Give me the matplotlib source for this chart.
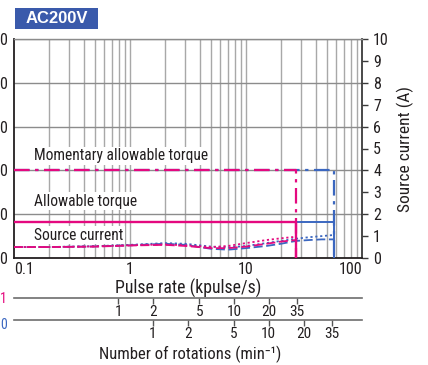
import matplotlib
matplotlib.use("Agg")
import matplotlib.pyplot as plt
import matplotlib.font_manager as fm
from matplotlib.patches import Rectangle
from matplotlib.ticker import FixedLocator, NullLocator

# pick a condensed sans font if one is installed
cond = None
pref = ['Liberation Sans Narrow', 'Roboto Condensed', 'Open Sans Condensed', 'DejaVu Sans', 'Noto Sans']
cands = [f for f in fm.fontManager.ttflist
         if (('Narrow' in f.name) or ('Condensed' in f.name) or f.stretch in ('condensed', 'semi-condensed'))
         and f.style == 'normal' and f.weight in (400, 'normal', 'regular', 'book')]
for p in pref:
    for f in cands:
        if f.name == p:
            cond = f
            break
    if cond is not None:
        break
if cond is None and cands:
    cond = cands[0]
if cond is not None:
    plt.rcParams['font.family'] = [cond.name, 'DejaVu Sans']
    plt.rcParams['font.stretch'] = cond.stretch
else:
    plt.rcParams['font.family'] = ['DejaVu Sans']

MAG = '#e4097f'
BLU = '#3b67c0'
TXT = '#231f20'

# pulse-rate factors for the two rotation axes (kpulse/s per unit)
k1 = 0.79
k2 = 1.57

# limits (kpulse/s)
mag_limit = 27.0
blu_limit = 57.0
momentary = 4.0      # right-axis units
allowable = 1.63

# source current curves
f_mag = [0.1, 0.2, 0.5, 1, 2, 3, 5, 7, 10, 15, 20, 27]
mag_dash = [0.5, 0.5, 0.52, 0.57, 0.6, 0.55, 0.45, 0.45, 0.52, 0.65, 0.75, 0.82]
mag_dot = [0.5, 0.5, 0.53, 0.58, 0.62, 0.58, 0.5, 0.55, 0.68, 0.82, 0.9, 0.97]
f_blu = [0.1, 0.2, 0.5, 1, 2, 3, 5, 7, 10, 15, 20, 27, 35, 45, 57]
blu_dash = [0.5, 0.5, 0.53, 0.58, 0.65, 0.6, 0.42, 0.38, 0.45, 0.55, 0.65, 0.78, 0.82, 0.85, 0.85]
blu_dot = [0.5, 0.5, 0.54, 0.6, 0.68, 0.65, 0.52, 0.48, 0.55, 0.68, 0.78, 0.88, 0.95, 1.0, 1.05]

x_ticks = [0.1, 1, 10, 100]
x_ticklabels = ['0.1', '1', '10', '100']
right_ticks = list(range(11))
left_ticks = [0, 2, 4, 6, 8, 10]
left_labels = ['0', '0', '0', '0', '0', '0']
rot_ticks = [1, 2, 5, 10, 20, 35]

fig = plt.figure(figsize=(4.28, 3.65), dpi=100)
ax = fig.add_axes([14/428, 1-258/365, (362-14)/428, (258-39)/365])
ax.set_xscale('log')
ax.set_xlim(0.1, 100)
ax.set_ylim(0, 10)

# grid
minor = []
for d in [0.1, 1, 10]:
    minor += [d*m for m in range(2, 10)]
for v in minor + [1, 10]:
    ax.axvline(v, color='#a8a8a8', lw=1.0, zorder=0)
for v in left_ticks[1:]:
    ax.axhline(v, color='#8c8c8c', lw=1.0, zorder=0)

# momentary allowable torque
ax.plot([0.1, blu_limit, blu_limit], [momentary, momentary, 0], color=BLU, lw=1.6,
        dashes=(7, 2.5, 1.5, 2.5), zorder=3)
ax.plot([0.1, mag_limit, mag_limit], [momentary, momentary, 0], color=MAG, lw=1.6,
        dashes=(7, 2.5, 1.5, 2.5), zorder=4)
# allowable torque
ax.plot([mag_limit, blu_limit, blu_limit], [allowable, allowable, 0], color=BLU, lw=1.4, zorder=3)
ax.plot([0.1, mag_limit, mag_limit], [allowable, allowable, 0], color=MAG, lw=1.7, zorder=4)
# source current
ax.plot(f_blu, blu_dash, color=BLU, lw=1.3, dashes=(5, 2), zorder=3)
ax.plot(f_blu, blu_dot, color=BLU, lw=1.3, dashes=(1.2, 1.5), zorder=3)
ax.plot(f_mag, mag_dash, color=MAG, lw=1.3, dashes=(5, 2), zorder=4)
ax.plot(f_mag, mag_dot, color=MAG, lw=1.3, dashes=(1.2, 1.5), zorder=4)

bb = dict(facecolor='white', edgecolor='none', pad=1.0)
FS_IN = 11.2
ax.text(0.15, 4.66, 'Momentary allowable torque', fontsize=FS_IN, va='center', ha='left',
        color=TXT, bbox=bb, zorder=5)
ax.text(0.15, 2.6, 'Allowable torque', fontsize=FS_IN, va='center', ha='left',
        color=TXT, bbox=bb, zorder=5)
ax.text(0.15, 1.05, 'Source current', fontsize=FS_IN, va='center', ha='left',
        color=TXT, bbox=bb, zorder=5)

# spines
for s in ['left', 'bottom']:
    ax.spines[s].set_color(TXT)
    ax.spines[s].set_linewidth(1.3)
ax.spines['right'].set_color('#3a3a3a')
ax.spines['right'].set_linewidth(1.3)
ax.spines['top'].set_color('#8c8c8c')
ax.spines['top'].set_linewidth(1.0)

FS_T = 11.5
# x axis
ax.xaxis.set_major_locator(FixedLocator(x_ticks))
ax.set_xticklabels(x_ticklabels)
ax.xaxis.set_minor_locator(NullLocator())
ax.tick_params(axis='x', length=0, pad=3, labelsize=FS_T, labelcolor=TXT)
lbls = ax.get_xticklabels()
lbls[0].set_ha('left')
lbls[-1].set_ha('right')
ax.set_xlabel('Pulse rate (kpulse/s)', fontsize=12.8, labelpad=1, color=TXT)

# right axis
ax.yaxis.tick_right()
ax.set_yticks(right_ticks)
ax.tick_params(axis='y', which='major', right=True, left=False, length=4, width=1.0,
               labelsize=FS_T, pad=4, labelcolor=TXT, color='#3a3a3a')
ax.yaxis.set_label_position('right')
ax.set_ylabel('Source current (A)', fontsize=12.5, labelpad=6, color=TXT)

# left axis (torque) - only the trailing digits are visible
axl = ax.secondary_yaxis('left')
axl.set_yticks(left_ticks)
axl.set_yticklabels(left_labels)
axl.tick_params(length=0, pad=5, labelsize=FS_T, labelcolor=TXT)
axl.spines['left'].set_visible(False)

# rotation axes
s1 = ax.secondary_xaxis(-0.184, functions=(lambda f: f / k1, lambda r: r * k1))
s1.set_xticks(rot_ticks)
s1.set_xticklabels([str(v) for v in rot_ticks])
s1.xaxis.set_minor_locator(NullLocator())
s1.tick_params(length=4, width=1.0, pad=1, labelsize=11, labelcolor=TXT, color='#555555')
s1.spines['bottom'].set_color('#6d6d6d')
s1.spines['bottom'].set_linewidth(1.2)

s2 = ax.secondary_xaxis(-0.285, functions=(lambda f: f / k2, lambda r: r * k2))
s2.set_xticks(rot_ticks)
s2.set_xticklabels([str(v) for v in rot_ticks])
s2.xaxis.set_minor_locator(NullLocator())
s2.tick_params(length=4, width=1.0, pad=0.5, labelsize=11, labelcolor=TXT, color='#555555')
s2.spines['bottom'].set_color('#6d6d6d')
s2.spines['bottom'].set_linewidth(1.2)
fig.text(190/428, 1-354/365, 'Number of rotations (min\u207b\u00b9)', fontsize=12,
         ha='center', va='center', color=TXT)

# side marks for the rotation axes (cut-off labels in the reference)
fig.text(0, 1-299/365, '1', color=MAG, fontsize=10, ha='left', va='center')
fig.text(0, 1-325/365, '0', color=BLU, fontsize=10, ha='left', va='center')

# title box
fig.patches.append(Rectangle((15/428, 1-29/365), 83/428, 21/365, transform=fig.transFigure,
                             facecolor='#3a5aab', edgecolor='none', zorder=1))
fig.text(56.5/428, 1-18.5/365, 'AC200V', color='white', fontsize=12, fontweight='bold',
         ha='center', va='center', family=['Liberation Sans', 'DejaVu Sans'],
         fontstretch='normal', zorder=2)

fig.savefig('out.png', dpi=100)
